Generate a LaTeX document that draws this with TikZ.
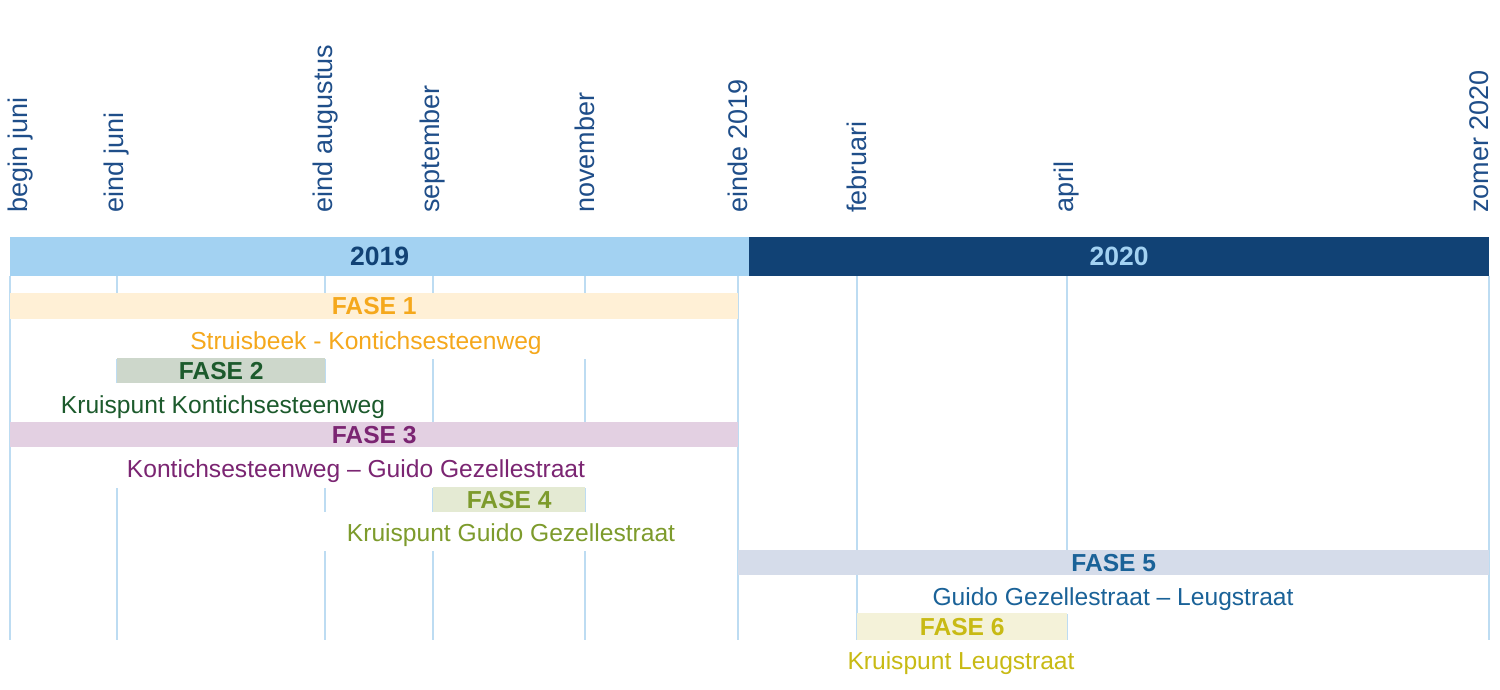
\documentclass[tikz,border=0pt]{standalone}
\usepackage{fontspec}
\setmainfont{Liberation Sans}
\definecolor{gridc}{HTML}{BDDCF2}
\definecolor{ylight}{HTML}{A3D2F2}
\definecolor{ydark}{HTML}{114275}
\definecolor{tickc}{HTML}{1F4E89}
\definecolor{f1bg}{HTML}{FFF0D6}\definecolor{f1}{HTML}{F5A81C}
\definecolor{f2bg}{HTML}{CDD7CB}\definecolor{f2}{HTML}{1C5A2C}
\definecolor{f3bg}{HTML}{E3D0E2}\definecolor{f3}{HTML}{7B2572}
\definecolor{f4bg}{HTML}{E4EAD3}\definecolor{f4}{HTML}{7D9B2C}
\definecolor{f5bg}{HTML}{D5DCEA}\definecolor{f5}{HTML}{1A6298}
\definecolor{f6bg}{HTML}{F4F2D9}\definecolor{f6}{HTML}{C8BA14}
\begin{document}
\begin{tikzpicture}[x=1pt,y=-1pt,
  gridline/.style={draw=gridc,line width=1.3pt},
  ticklabel/.style={rotate=90,anchor=west,inner sep=0pt,text=tickc,font=\fontsize{27}{32}\selectfont},
  yearbar/.style={anchor=north west,inner sep=0pt,minimum height=39pt,font=\fontsize{26.5}{30}\selectfont\bfseries},
  fasebar/.style={anchor=north west,inner sep=0pt,minimum height=25pt,font=\fontsize{24.6}{28}\selectfont\bfseries},
  fasetext/.style={anchor=base,inner sep=0pt,font=\fontsize{24.6}{28}\selectfont}]
\useasboundingbox (0,0) rectangle (1500,689);
% grid lines
\foreach \x in {10,117,325,433,585,738,857,1067,1489}
  \draw[gridline] (\x,276) -- (\x,640);
% white backgrounds behind label rows
\fill[white] (12,318.5) rectangle (736,358.5);
\fill[white] (40,382.5) rectangle (410,422.5);
\fill[white] (12,446.5) rectangle (736,487.5);
\fill[white] (300,511.5) rectangle (720,550.5);
\fill[white] (900,574.5) rectangle (1320,613.5);
% year bars
\node[yearbar,fill=ylight,text=ydark,minimum width=739pt] (y2019) at (10,237) {2019};
\node[yearbar,fill=ydark,text=ylight,minimum width=740pt] (y2020) at (749,237) {2020};
% tick labels
\node[ticklabel] (t1) at (21,213) {begin juni};
\node[ticklabel] (t2) at (117,213) {eind juni};
\node[ticklabel] (t3) at (326,213) {eind augustus};
\node[ticklabel] (t4) at (433,213) {september};
\node[ticklabel] (t5) at (585,213) {november};
\node[ticklabel] (t6) at (738,213) {einde 2019};
\node[ticklabel] (t7) at (857,213) {februari};
\node[ticklabel] (t8) at (1067,213) {april};
\node[ticklabel] (t9) at (1479,213) {zomer 2020};
% phases
\node[fasebar,fill=f1bg,text=f1,minimum width=728pt,minimum height=26pt] (fase1) at (10,293) {FASE 1};
\node[fasetext,text=f1] (l1) at (366,349) {Struisbeek - Kontichsesteenweg};
\node[fasebar,fill=f2bg,text=f2,minimum width=208pt] (fase2) at (117,358) {FASE 2};
\node[fasetext,text=f2] (l2) at (223,413) {Kruispunt Kontichsesteenweg};
\node[fasebar,fill=f3bg,text=f3,minimum width=728pt] (fase3) at (10,422) {FASE 3};
\node[fasetext,text=f3] (l3) at (356,477) {Kontichsesteenweg – Guido Gezellestraat};
\node[fasebar,fill=f4bg,text=f4,minimum width=152pt] (fase4) at (433,487) {FASE 4};
\node[fasetext,text=f4] (l4) at (511,541) {Kruispunt Guido Gezellestraat};
\node[fasebar,fill=f5bg,text=f5,minimum width=751pt] (fase5) at (738,550) {FASE 5};
\node[fasetext,text=f5] (l5) at (1113,605) {Guido Gezellestraat – Leugstraat};
\node[fasebar,fill=f6bg,text=f6,minimum width=210pt,minimum height=27pt] (fase6) at (857,613) {FASE 6};
\node[fasetext,text=f6] (l6) at (961,669) {Kruispunt Leugstraat};
\end{tikzpicture}
\end{document}
